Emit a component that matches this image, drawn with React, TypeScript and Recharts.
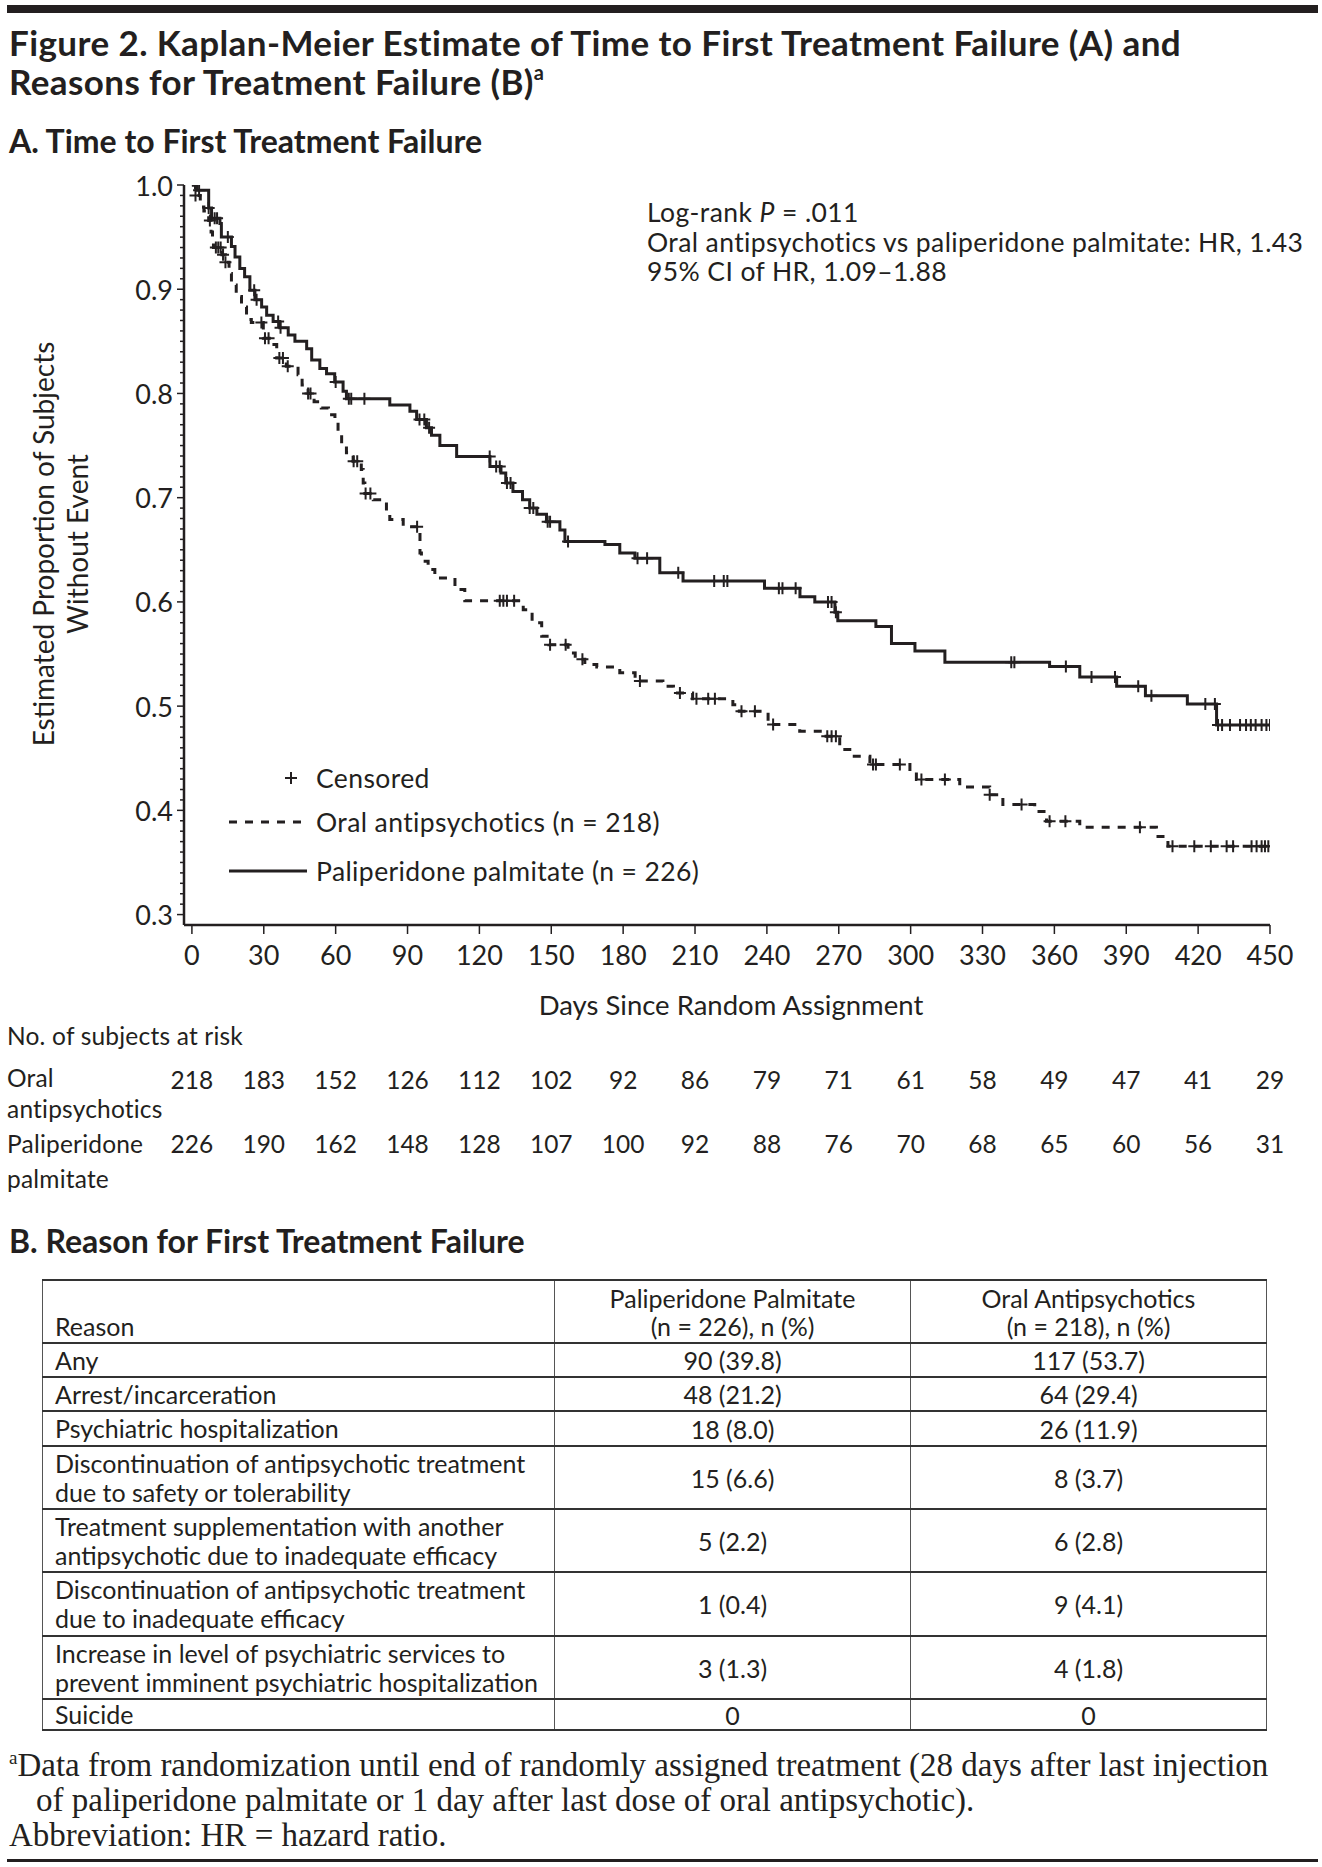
import React from 'react';
import { ComposedChart, Line, Scatter, XAxis, YAxis, Legend, Label } from 'recharts';

const INK = '#231f20';
const SANS = 'Lato, "Open Sans", sans-serif';
const SERIF = '"Liberation Serif", "DejaVu Serif", serif';

// x axis: days since random assignment
const dayTicks = [0, 30, 60, 90, 120, 150, 180, 210, 240, 270, 300, 330, 360, 390, 420, 450];

// number at risk under each day tick
const atRiskOral = [218, 183, 152, 126, 112, 102, 92, 86, 79, 71, 61, 58, 49, 47, 41, 29];
const atRiskPali = [226, 190, 162, 148, 128, 107, 100, 92, 88, 76, 70, 68, 65, 60, 56, 31];

// Kaplan-Meier steps, paliperidone palmitate
const paliDays = [0, 2, 7, 8.2, 11.7, 12.3, 16.5, 18, 20, 22, 24.2, 26.3, 29.1, 31.2, 33.9, 36.7, 40.2, 43, 47.9, 50,
  53.4, 56.2, 59.6, 63.1, 64.5, 82.6, 91, 93.8, 97.9, 100, 103.5, 110.5, 124.4, 129, 131, 134, 138, 141, 144, 148,
  153.6, 155.7, 172.4, 178.6, 184.9, 195.3, 205, 239, 253.8, 260, 268.4, 269.6, 285.5, 292, 301.8, 314.3, 358,
  370.6, 386, 398, 415.5, 427.7, 451];
const paliSurv = [1.0, 0.995, 0.978, 0.968, 0.963, 0.95, 0.941, 0.931, 0.92, 0.912, 0.899, 0.89, 0.883, 0.875, 0.869,
  0.863, 0.856, 0.85, 0.843, 0.832, 0.824, 0.819, 0.811, 0.802, 0.795, 0.789, 0.783, 0.775, 0.767, 0.76, 0.75,
  0.7395, 0.73, 0.7236, 0.714, 0.706, 0.698, 0.69, 0.684, 0.677, 0.669, 0.658, 0.655, 0.647, 0.642, 0.628, 0.62,
  0.613, 0.605, 0.6, 0.59, 0.582, 0.5765, 0.56, 0.553, 0.542, 0.538, 0.528, 0.519, 0.51, 0.502, 0.482, 0.482];
const paliCensor = [3, 7, 9.5, 10.5, 15, 26, 27, 36, 37, 60, 65.5, 66.5, 72, 95, 97, 99, 124.3, 127, 128.5, 131.5,
  133, 141, 142.5, 148.5, 149.5, 157, 186, 190, 203, 218, 222, 223.5, 245, 246.5, 252, 265.5, 267, 268.8, 342,
  343.3, 364.8, 375.5, 385.3, 395, 400.5, 423, 427, 428.3, 430, 433.3, 437.5, 440, 442, 444, 446.5, 448.5, 450];

// Kaplan-Meier steps, oral antipsychotics
const oralDays = [0, 1.5, 3.5, 5, 7, 8, 8.6, 9, 12.5, 14, 15.5, 16.5, 18.5, 20.7, 22.8, 24.8, 29.8, 33, 35.4, 39.4,
  44.3, 46, 48.5, 51, 54, 57, 59.7, 61, 62.5, 64.5, 67.3, 70.7, 71.5, 72.2, 75.7, 81.2, 82.6, 88.2, 95.2, 95.8,
  98.6, 101.4, 109.8, 113.9, 138.3, 142, 146, 149, 157, 160, 164, 169, 178.6, 185, 196.6, 201, 209, 225.8, 228.5,
  240.5, 253.7, 263.4, 270.4, 274.6, 283, 299.7, 302.4, 320.5, 333, 338.5, 351.8, 356.7, 370.6, 402.6, 407.4, 451];
const oralSurv = [1.0, 0.99, 0.979, 0.975, 0.966, 0.955, 0.949, 0.94, 0.933, 0.926, 0.915, 0.904, 0.893, 0.883,
  0.871, 0.868, 0.853, 0.847, 0.834, 0.826, 0.818, 0.808, 0.8, 0.792, 0.786, 0.7795, 0.772, 0.76, 0.751, 0.743,
  0.735, 0.727, 0.714, 0.704, 0.698, 0.685, 0.679, 0.672, 0.647, 0.639, 0.631, 0.623, 0.612, 0.601, 0.5925, 0.58,
  0.567, 0.559, 0.551, 0.545, 0.54, 0.5376, 0.532, 0.524, 0.519, 0.5127, 0.507, 0.5014, 0.495, 0.4823, 0.476,
  0.471, 0.4583, 0.452, 0.444, 0.4375, 0.4295, 0.4225, 0.415, 0.4056, 0.399, 0.3896, 0.3838, 0.375, 0.3656, 0.3656];
const oralCensor = [1.5, 7.5, 10, 11, 12, 13, 14, 29, 30.5, 32, 36.5, 38, 40, 48.5, 49.5, 67.5, 69, 72.5, 74.5, 94,
  128.5, 130, 131.5, 134.5, 149.5, 156, 163, 187, 203.7, 210.6, 215.5, 218.3, 229.4, 235, 242.6, 265.2, 267, 268.8,
  284.3, 285.5, 295.5, 304.5, 314.3, 333, 346.3, 358, 364.6, 395.7, 409.3, 418.4, 425.3, 431.9, 434.6, 442.3, 444.4,
  446.5, 447.9, 449.3];

const toSteps = (days: number[], surv: number[]) => days.map((d, i) => ({ day: d, surv: surv[i] }));

function survAt(days: number[], surv: number[], d: number) {
  let v = surv[0];
  for (let i = 0; i < days.length; i++) if (days[i] <= d) v = surv[i];
  return v;
}

const paliData = toSteps(paliDays, paliSurv);
const oralData = toSteps(oralDays, oralSurv);
const paliCensorPts = paliCensor.map((d) => ({ day: d, surv: survAt(paliDays, paliSurv, d) }));
const oralCensorPts = oralCensor.map((d) => ({ day: d, surv: survAt(oralDays, oralSurv, d) }));

// every 0.01 gets a small tick, every 0.1 a label
const propTicks = Array.from({ length: 71 }, (_, i) => (30 + i) / 100);

const reasons = [
  ['Any'],
  ['Arrest/incarceration'],
  ['Psychiatric hospitalization'],
  ['Discontinuation of antipsychotic treatment', 'due to safety or tolerability'],
  ['Treatment supplementation with another', 'antipsychotic due to inadequate efficacy'],
  ['Discontinuation of antipsychotic treatment', 'due to inadequate efficacy'],
  ['Increase in level of psychiatric services to', 'prevent imminent psychiatric hospitalization'],
  ['Suicide'],
];
const paliFailures = ['90 (39.8)', '48 (21.2)', '18 (8.0)', '15 (6.6)', '5 (2.2)', '1 (0.4)', '3 (1.3)', '0'];
const oralFailures = ['117 (53.7)', '64 (29.4)', '26 (11.9)', '8 (3.7)', '6 (2.8)', '9 (4.1)', '4 (1.8)', '0'];
const rowHeights = [34, 34, 35, 63, 63, 64, 63, 30];

const CensorMark = (props: any) => {
  const { cx, cy } = props;
  if (cx == null || cy == null) return null;
  return (
    <path d={`M${cx - 6},${cy}h12M${cx},${cy - 6}v12`} stroke={INK} strokeWidth={2} fill="none" />
  );
};

const DayTick = (props: any) => {
  const { x, y, payload } = props;
  const i = dayTicks.indexOf(payload.value);
  return (
    <g fontFamily={SANS} fill={INK} textAnchor="middle">
      <text x={x} y={y + 20} dominantBaseline="central" fontSize={27}>{payload.value}</text>
      <text x={x} y={y + 145} dominantBaseline="central" fontSize={24.5}>{atRiskOral[i]}</text>
      <text x={x} y={y + 209} dominantBaseline="central" fontSize={24.5}>{atRiskPali[i]}</text>
    </g>
  );
};

const PropTick = (props: any) => {
  const { x, y, payload } = props;
  const major = Math.round(payload.value * 100) % 10 === 0;
  return (
    <g>
      <line x1={x - (major ? 7 : 4)} x2={x} y1={y} y2={y} stroke={INK} strokeWidth={1.5} />
      {major && (
        <text x={x - 11} y={y} textAnchor="end" dominantBaseline="central" fontFamily={SANS} fontSize={27} fill={INK}>
          {payload.value.toFixed(1)}
        </text>
      )}
    </g>
  );
};

const KMLegend = () => (
  <svg width={480} height={135} style={{ overflow: 'visible' }}>
    <g fontFamily={SANS} fontSize={26.5} letterSpacing={0.4} fill={INK}>
      <path d="M60,23h12M66,17v12" stroke={INK} strokeWidth={2} />
      <text x={91} y={23} dominantBaseline="central">Censored</text>
      <line x1={4} x2={82} y1={67} y2={67} stroke={INK} strokeWidth={3} strokeDasharray="8 8" />
      <text x={91} y={67} dominantBaseline="central">Oral antipsychotics (n = 218)</text>
      <line x1={4} x2={82} y1={116} y2={116} stroke={INK} strokeWidth={3} />
      <text x={91} y={116} dominantBaseline="central">Paliperidone palmitate (n = 226)</text>
    </g>
  </svg>
);

const abs = (left: number, top: number, extra: React.CSSProperties = {}): React.CSSProperties => ({
  position: 'absolute',
  left,
  top,
  whiteSpace: 'nowrap',
  ...extra,
});

const cellLine: React.CSSProperties = { borderTop: `2px solid #333`, borderBottom: `2px solid #333` };

export default function App() {
  return (
    <div
      style={{
        position: 'absolute',
        left: 0,
        top: 0,
        width: 1322,
        height: 1867,
        background: '#fff',
        color: INK,
        fontFamily: SANS,
        overflow: 'hidden',
      }}
    >
      <div style={{ position: 'absolute', left: 7, top: 5, width: 1311, height: 8, background: INK }} />
      <div style={abs(9, 23, { fontSize: 35, letterSpacing: 0.4, fontWeight: 700, lineHeight: '39px' })}>
        Figure 2. Kaplan-Meier Estimate of Time to First Treatment Failure (A) and
        <br />
        Reasons for Treatment Failure (B)
        <sup style={{ fontSize: 20, verticalAlign: 'top', lineHeight: '20px' }}>a</sup>
      </div>
      <div style={abs(9, 123, { fontSize: 32, fontWeight: 700, lineHeight: '36px' })}>
        A. Time to First Treatment Failure
      </div>

      <div style={{ position: 'absolute', left: 0, top: 0 }}>
        <ComposedChart width={1322} height={1200} margin={{ top: 185, right: 52, bottom: 185, left: 0 }}>
          <XAxis
            xAxisId="main"
            dataKey="day"
            type="number"
            domain={[-3.3, 450]}
            allowDataOverflow
            ticks={dayTicks}
            interval={0}
            height={90}
            tickSize={9}
            tickMargin={0}
            tick={<DayTick />}
            axisLine={{ stroke: INK, strokeWidth: 2.5 }}
            tickLine={{ stroke: INK, strokeWidth: 1.5 }}
          >
            <Label
              content={(p: any) => (
                <text
                  x={p.viewBox.x + p.viewBox.width / 2 + 4}
                  y={p.viewBox.y + 79}
                  textAnchor="middle"
                  dominantBaseline="central"
                  fontFamily={SANS}
                  fontSize={27.5}
                  fill={INK}
                >
                  Days Since Random Assignment
                </text>
              )}
            />
          </XAxis>
          <YAxis
            dataKey="surv"
            type="number"
            domain={[0.29, 1.0]}
            allowDataOverflow
            ticks={propTicks}
            interval={0}
            width={184}
            tickSize={0}
            tickMargin={0}
            tickLine={false}
            tick={<PropTick />}
            axisLine={{ stroke: INK, strokeWidth: 2.5 }}
          >
            <Label
              content={(p: any) => {
                const cy = p.viewBox.y + p.viewBox.height / 2 - 11;
                return (
                  <g fontFamily={SANS} fontSize={28} fill={INK} textAnchor="middle">
                    <text x={43} y={cy} transform={`rotate(-90 43 ${cy})`} dominantBaseline="central">
                      Estimated Proportion of Subjects
                    </text>
                    <text x={77} y={cy} transform={`rotate(-90 77 ${cy})`} dominantBaseline="central">
                      Without Event
                    </text>
                  </g>
                );
              }}
            />
          </YAxis>
          <Line
            xAxisId="main"
            name="Oral antipsychotics (n = 218)"
            data={oralData}
            dataKey="surv"
            type="stepAfter"
            stroke={INK}
            strokeWidth={3}
            strokeDasharray="8 8"
            dot={false}
            activeDot={false}
            isAnimationActive={false}
          />
          <Line
            xAxisId="main"
            name="Paliperidone palmitate (n = 226)"
            data={paliData}
            dataKey="surv"
            type="stepAfter"
            stroke={INK}
            strokeWidth={3}
            dot={false}
            activeDot={false}
            isAnimationActive={false}
          />
          <Scatter xAxisId="main" name="Censored" data={oralCensorPts} shape={<CensorMark />} isAnimationActive={false} />
          <Scatter xAxisId="main" name="Censored" data={paliCensorPts} shape={<CensorMark />} isAnimationActive={false} />
          <Legend
            layout="horizontal"
            verticalAlign="middle"
            align="center"
            content={() => <KMLegend />}
            wrapperStyle={{ position: 'absolute', left: 225, top: 755, width: 480, height: 135 }}
          />
        </ComposedChart>
      </div>

      <div style={{ position: 'absolute', left: 647, top: 198, fontSize: 26.5, letterSpacing: 0.4, lineHeight: '29.5px', whiteSpace: 'nowrap' }}>
        <div>
          Log-rank <i>P</i> = .011
        </div>
        <div>Oral antipsychotics vs paliperidone palmitate: HR, 1.43</div>
        <div>95% CI of HR, 1.09–1.88</div>
      </div>

      <div style={{ position: 'absolute', left: 7, top: 1021, fontSize: 24.5, letterSpacing: 0.2, lineHeight: '30px' }}>
        No. of subjects at risk
      </div>
      <div style={{ position: 'absolute', left: 7, top: 1062, fontSize: 24.5, letterSpacing: 0.2, lineHeight: '31px' }}>
        Oral
        <br />
        antipsychotics
      </div>
      <div style={{ position: 'absolute', left: 7, top: 1126, fontSize: 24.5, letterSpacing: 0.2, lineHeight: '35px' }}>
        Paliperidone
        <br />
        palmitate
      </div>

      <div style={abs(9, 1223, { fontSize: 32, fontWeight: 700, lineHeight: '36px' })}>
        B. Reason for First Treatment Failure
      </div>

      <table
        style={{
          position: 'absolute',
          left: 42,
          top: 1279,
          width: 1224,
          borderCollapse: 'collapse',
          tableLayout: 'fixed',
          fontSize: 25,
          lineHeight: '28px',
          border: '1.5px solid #555',
        }}
      >
        <colgroup>
          <col style={{ width: 512 }} />
          <col style={{ width: 356 }} />
          <col style={{ width: 356 }} />
        </colgroup>
        <thead>
          <tr style={{ height: 63 }}>
            <th style={{ ...cellLine, fontWeight: 400, textAlign: 'left', verticalAlign: 'bottom', padding: '0 0 2px 12px' }}>
              Reason
            </th>
            <th style={{ ...cellLine, fontWeight: 400, borderLeft: '1.5px solid #555', padding: 0 }}>
              Paliperidone Palmitate
              <br />
              (n = 226), n (%)
            </th>
            <th style={{ ...cellLine, fontWeight: 400, borderLeft: '1.5px solid #555', padding: 0 }}>
              Oral Antipsychotics
              <br />
              (n = 218), n (%)
            </th>
          </tr>
        </thead>
        <tbody>
          {reasons.map((r, i) => (
            <tr key={i} style={{ height: rowHeights[i] }}>
              <td style={{ ...cellLine, padding: '0 0 0 12px', lineHeight: '29px', whiteSpace: 'nowrap' }}>
                {r.map((l, j) => (
                  <div key={j}>{l}</div>
                ))}
              </td>
              <td style={{ ...cellLine, borderLeft: '1.5px solid #555', textAlign: 'center', padding: 0 }}>
                {paliFailures[i]}
              </td>
              <td style={{ ...cellLine, borderLeft: '1.5px solid #555', textAlign: 'center', padding: 0 }}>
                {oralFailures[i]}
              </td>
            </tr>
          ))}
        </tbody>
      </table>

      <div style={{ position: 'absolute', left: 9, top: 1748, fontFamily: SERIF, fontSize: 33, lineHeight: '35px', whiteSpace: 'nowrap' }}>
        <div>
          <sup style={{ fontSize: 19, verticalAlign: 'top', lineHeight: '19px' }}>a</sup>
          Data from randomization until end of randomly assigned treatment (28 days after last injection
        </div>
        <div style={{ paddingLeft: 27 }}>
          of paliperidone palmitate or 1 day after last dose of oral antipsychotic).
        </div>
        <div>Abbreviation: HR = hazard ratio.</div>
      </div>
      <div style={{ position: 'absolute', left: 7, top: 1859, width: 1311, height: 3, background: INK }} />
    </div>
  );
}
